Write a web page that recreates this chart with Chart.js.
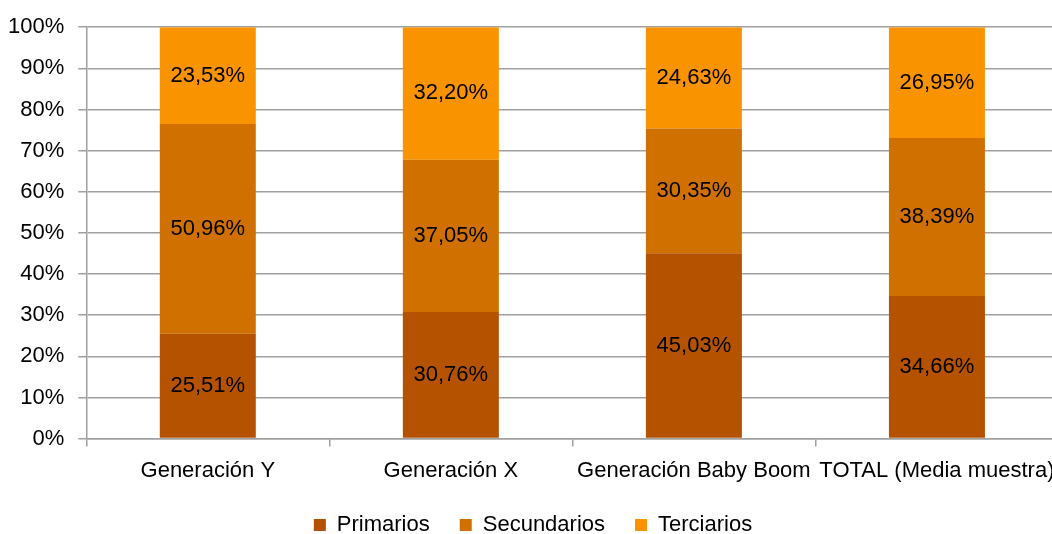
<!DOCTYPE html>
<html><head><meta charset="utf-8">
<script src="https://cdn.jsdelivr.net/npm/chart.js@4/dist/chart.umd.min.js"></script>
<style>html,body{margin:0;padding:0;overflow:hidden;background:#fff}#wrap{width:1066px;height:548px;position:relative}</style>
</head><body><div id="wrap"><canvas id="c"></canvas></div>
<script>
const categories = ["Generación Y", "Generación X", "Generación Baby Boom", "TOTAL (Media muestra)"];
const primarios = [25.51, 30.76, 45.03, 34.66];
const secundarios = [50.96, 37.05, 30.35, 38.39];
const terciarios = [23.53, 32.20, 24.63, 26.95];
const seriesNames = ["Primarios", "Secundarios", "Terciarios"];
const seriesColors = ["#B45200", "#CF7000", "#FA9300"];
const yTicks = [0,10,20,30,40,50,60,70,80,90,100];

const FONT = "'Liberation Sans', Arial, sans-serif";

const labelPlugin = {
  id: 'segLabels',
  afterDatasetsDraw(chart) {
    const ctx = chart.ctx;
    ctx.save();
    ctx.font = "22px " + FONT;
    ctx.fillStyle = "#000";
    ctx.textAlign = "center";
    ctx.textBaseline = "middle";
    chart.data.datasets.forEach((ds, i) => {
      const meta = chart.getDatasetMeta(i);
      meta.data.forEach((bar, j) => {
        const v = ds.data[j];
        const y = (bar.y + bar.base) / 2;
        ctx.fillText(v.toFixed(2).replace('.', ',') + '%', bar.x, y);
      });
    });
    ctx.restore();
  }
};

new Chart(document.getElementById('c'), {
  type: 'bar',
  data: {
    labels: categories,
    datasets: [primarios, secundarios, terciarios].map((d, i) => ({
      label: seriesNames[i], data: d, backgroundColor: seriesColors[i],
      categoryPercentage: 1, barPercentage: 0.395, borderWidth: 0
    }))
  },
  options: {
    responsive: true, maintainAspectRatio: false, animation: false,
    layout: { padding: { top: 18, right: 4, left: 4, bottom: 2 } },
    plugins: {
      legend: {
        position: 'bottom',
        labels: { font: { family: FONT, size: 22 }, color: '#000', boxWidth: 12, boxHeight: 12, padding: 30 }
      },
      tooltip: { enabled: false }
    },
    scales: {
      x: {
        stacked: true,
        afterFit(axis) { axis.height -= 11; },
        grid: { display: true, drawOnChartArea: false, drawTicks: true, tickLength: 8, color: '#a0a0a0', lineWidth: 1.5, offset: true },
        border: { color: '#a0a0a0', width: 1.5 },
        ticks: { font: { family: FONT, size: 22 }, color: '#000', padding: 11, maxRotation: 0, autoSkip: false }
      },
      y: {
        stacked: true, min: 0, max: 100,
        afterFit(axis) { axis.width -= 10; },
        afterBuildTicks(axis) { axis.ticks = yTicks.map(v => ({ value: v })); },
        grid: { color: '#a0a0a0', lineWidth: 1.5, tickLength: 8 },
        border: { color: '#a0a0a0', width: 1.5 },
        ticks: { font: { family: FONT, size: 22 }, color: '#000', padding: 14, callback: v => v + '%' }
      }
    }
  },
  plugins: [labelPlugin]
});
</script></body></html>
